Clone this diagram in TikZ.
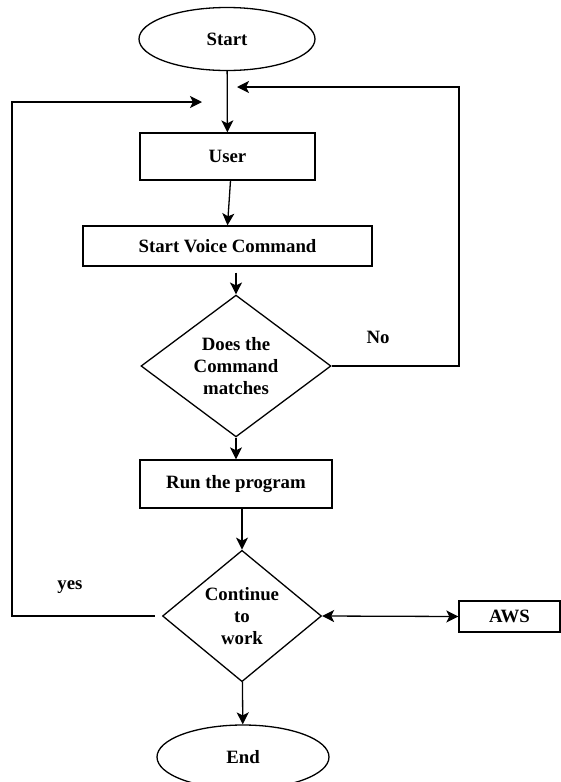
\documentclass[tikz,border=0pt]{standalone}
\usepackage{fontspec}
\setmainfont{Liberation Serif}
\usepackage{tikz}
\usetikzlibrary{arrows.meta,shapes}
\tikzstyle{terminal}=[ellipse,draw,line width=0.65pt,inner sep=0pt,font=\bfseries\fontsize{9.4}{11}\selectfont]
\tikzstyle{process}=[rectangle,draw,line width=0.65pt,inner sep=0pt,font=\bfseries\fontsize{9.4}{11}\selectfont]
\tikzstyle{decision}=[diamond,draw,line width=0.65pt,inner sep=0pt,align=center,font=\bfseries\fontsize{9.4}{11}\selectfont]
\tikzstyle{note}=[font=\bfseries\fontsize{9.4}{11}\selectfont]
\tikzstyle{dedge} = [draw,line width=0.65pt,-{Stealth[length=6pt,width=6pt,inset=1.5pt]}]
\tikzstyle{ddedge} = [draw,line width=0.65pt,{Stealth[length=6pt,width=6pt,inset=1.5pt]}-{Stealth[length=6pt,width=6pt,inset=1.5pt]}]

\begin{document}
\begin{tikzpicture}[x=0.5pt,y=-0.5pt]

      \useasboundingbox (0,0) rectangle (561,782);

      \node[terminal,minimum width=88pt,minimum height=31.5pt] (start) at (227,39) {Start};
      \node[process,minimum width=87.5pt,minimum height=23.5pt] (user) at (227.5,156.5) {User};
      \node[process,minimum width=144.5pt,minimum height=20pt] (voice) at (227.5,246) {Start Voice Command};
      \node[decision,minimum width=95pt,minimum height=61pt] (match) at (236,366) {Does the\\Command\\matches};
      \node[process,minimum width=96pt,minimum height=24pt] (run) at (236,484) {Run the program};
      \node[decision,minimum width=79.5pt,minimum height=61.5pt] (cont) at (242,616) {Continue\\to\\work};
      \node[process,minimum width=50.5pt,minimum height=15.5pt] (aws) at (509.5,616.5) {AWS};
      \node[terminal,minimum width=86pt,minimum height=32pt] (end) at (243,757) {End};

      \node[note] (no) at (378,337) {No};
      \node[note] (yes) at (70,587) {yes};

      \coordinate (notop) at (459,87);
      \coordinate (noend) at (237,87);
      \coordinate (yescorner) at (12,102);
      \coordinate (yesend) at (202,102);

      \path[dedge] (start) -- (user);
      \path[dedge] ([xshift=1.5pt]user.south) -- (voice.north);
      \path[dedge] ([yshift=-3pt]voice.south -| match.north) -- (match.north);
      \path[dedge] (match) -- (run);
      \path[dedge] (run.south -| cont.north) -- (cont.north);
      \path[dedge] (cont) -- (end);
      \path[ddedge] (cont.east) -- (aws.west);

      \path[dedge] (match.east) -| (notop) -- (noend);
      \path[dedge] ([xshift=-3.5pt]cont.west) -| (yescorner) -- (yesend);

    \end{tikzpicture}
\end{document}
